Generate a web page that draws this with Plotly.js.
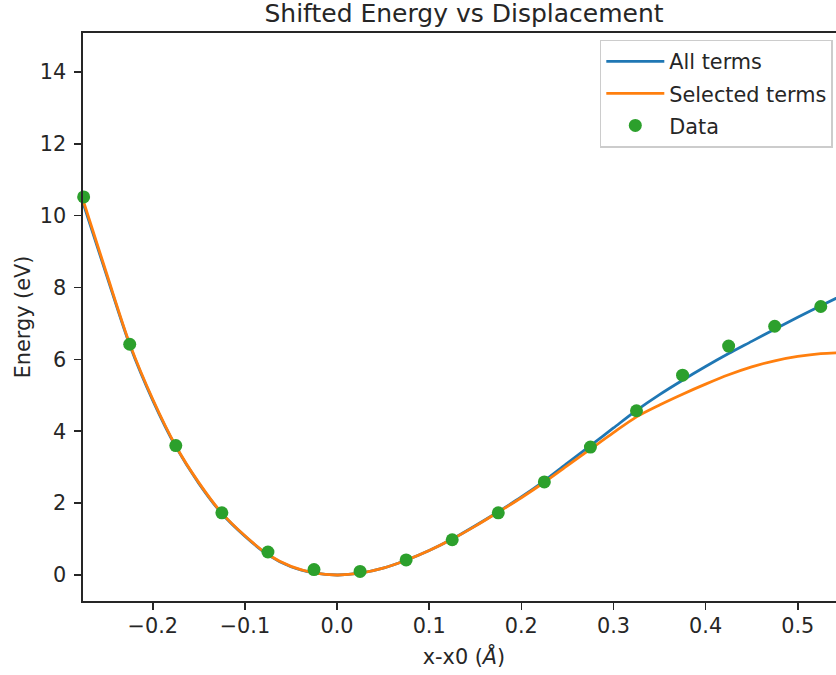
<!DOCTYPE html>
<html>
<head>
<meta charset="utf-8">
<script src="https://cdn.plot.ly/plotly-3.0.1.min.js"></script>
<style>
html, body { margin: 0; padding: 0; overflow: hidden; background: #fff; }
#chart { width: 845px; height: 675px; }
</style>
</head>
<body>
<div id="chart"></div>
<script>
// Curve sample positions (x-x0, Å)
const curveX = [-0.28, -0.25, -0.225, -0.2, -0.175, -0.15, -0.125, -0.1, -0.075, -0.05, -0.025, 0,
  0.025, 0.05, 0.075, 0.1, 0.125, 0.15, 0.175, 0.2, 0.225, 0.25, 0.275, 0.3, 0.325, 0.35, 0.375,
  0.4, 0.425, 0.45, 0.475, 0.5, 0.525, 0.55];
// "All terms" fit (eV)
const allTerms = [10.70, 8.33, 6.40, 4.86, 3.57, 2.55, 1.71, 1.08, 0.56, 0.23, 0.06, 0,
  0.05, 0.19, 0.41, 0.68, 1.00, 1.37, 1.76, 2.17, 2.62, 3.11, 3.60, 4.09, 4.58, 5.02, 5.42,
  5.80, 6.16, 6.50, 6.84, 7.17, 7.49, 7.80];
// "Selected terms" fit (eV)
const selectedTerms = [10.78, 8.38, 6.43, 4.89, 3.59, 2.57, 1.72, 1.09, 0.57, 0.24, 0.06, 0,
  0.05, 0.19, 0.41, 0.68, 1.00, 1.36, 1.75, 2.15, 2.58, 3.04, 3.50, 3.96, 4.40, 4.73, 5.03,
  5.31, 5.57, 5.79, 5.96, 6.08, 6.16, 6.19];
// Data points
const dataX = [-0.275, -0.225, -0.175, -0.125, -0.075, -0.025, 0.025, 0.075, 0.125, 0.175,
  0.225, 0.275, 0.325, 0.375, 0.425, 0.475, 0.525];
const dataE = [10.52, 6.42, 3.60, 1.73, 0.64, 0.15, 0.10, 0.42, 0.98, 1.73,
  2.59, 3.56, 4.57, 5.56, 6.37, 6.92, 7.47];

const txt = '#262626';
const fnt = {family: 'DejaVu Sans, sans-serif', size: 20.8, color: txt};

const traces = [
  {x: curveX, y: allTerms, type: 'scatter', mode: 'lines', name: 'All terms', legendgroup: 'a',
   line: {color: '#1f77b4', width: 2.8, shape: 'spline', smoothing: 0.8}},
  {x: curveX, y: selectedTerms, type: 'scatter', mode: 'lines', name: 'Selected terms', legendgroup: 'b',
   line: {color: '#ff7f0e', width: 2.8, shape: 'spline', smoothing: 0.8}},
  {x: dataX, y: dataE, type: 'scatter', mode: 'markers', name: 'Data', legendgroup: 'c',
   marker: {color: '#2ca02c', size: 13}, cliponaxis: false}
];

const layout = {
  width: 845, height: 675,
  margin: {l: 83, r: 0, t: 33.3, b: 74},
  paper_bgcolor: '#fff', plot_bgcolor: '#fff',
  font: fnt,
  title: {text: 'Shifted Energy vs Displacement', font: {family: fnt.family, size: 25, color: txt},
          x: 0.5, xref: 'paper', xanchor: 'center', y: 1, yref: 'container', yanchor: 'top', pad: {t: 4}},
  showlegend: true,
  legend: {x: 0.984, xanchor: 'right', y: 0.988, yanchor: 'top', bgcolor: 'rgba(255,255,255,0.8)',
           bordercolor: '#cccccc', borderwidth: 1.5, font: fnt, itemwidth: 58, tracegroupgap: 2},
  xaxis: {range: [-0.2757, 0.5513], tickvals: [-0.2, -0.1, 0.0, 0.1, 0.2, 0.3, 0.4, 0.5],
          ticktext: ['\u22120.2', '\u22120.1', '0.0', '0.1', '0.2', '0.3', '0.4', '0.5'],
          showgrid: false, zeroline: false, showline: true, linecolor: txt, linewidth: 1.6,
          mirror: true, ticks: 'outside', ticklen: 7, tickwidth: 1.6, tickcolor: txt,
          ticklabelstandoff: -2,
          title: {text: 'x-x0 (<i>Å</i>)', font: fnt, standoff: 13}},
  yaxis: {range: [-0.724, 15.08], tickvals: [0, 2, 4, 6, 8, 10, 12, 14],
          showgrid: false, zeroline: false, showline: true, linecolor: txt, linewidth: 1.6,
          mirror: false, ticks: 'outside', ticklen: 7, tickwidth: 1.6, tickcolor: txt,
          ticklabelstandoff: 4,
          title: {text: 'Energy (eV)', font: fnt, standoff: 3}}
};

Plotly.newPlot('chart', traces, layout, {displayModeBar: false, staticPlot: true});
</script>
</body>
</html>
